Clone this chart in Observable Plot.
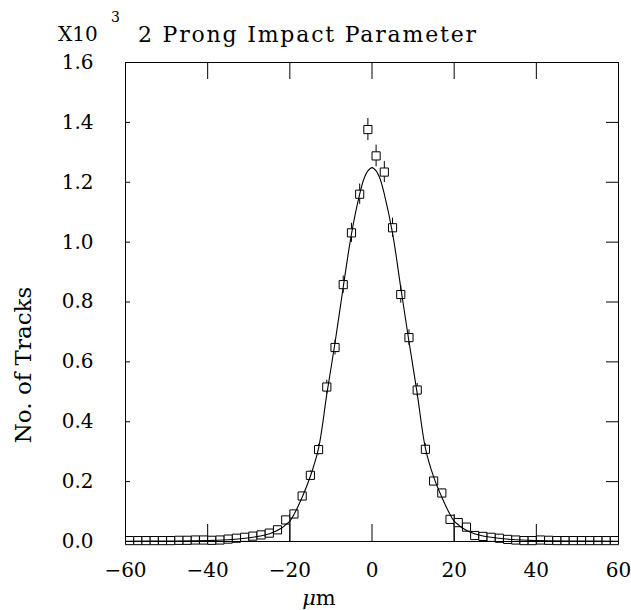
<!DOCTYPE html>
<html>
<head>
<meta charset="utf-8">
<script src="https://cdn.jsdelivr.net/npm/d3@7"></script>
<script src="https://cdn.jsdelivr.net/npm/@observablehq/plot@0.6"></script>
<style>
  html, body { margin: 0; padding: 0; background: #fff; }
  #chart svg { display: block; }
</style>
</head>
<body>
<div id="chart"></div>
<script>
// ---- data (counts in units of 10^3 tracks) ----
const binCenters = [-59,-57,-55,-53,-51,-49,-47,-45,-43,-41,-39,-37,-35,-33,-31,-29,-27,-25,-23,-21,-19,-17,-15,-13,-11,-9,-7,-5,-3,-1,
                    1,3,5,7,9,11,13,15,17,19,21,23,25,27,29,31,33,35,37,39,41,43,45,47,49,51,53,55,57,59];
const counts = [0.003,0.003,0.003,0.003,0.003,0.003,0.004,0.004,0.005,0.005,0.004,0.005,0.008,0.011,0.014,0.018,0.022,0.028,0.039,0.072,0.092,0.152,0.221,0.307,0.516,0.648,0.858,1.031,1.160,1.376,
                1.288,1.234,1.048,0.825,0.681,0.506,0.308,0.202,0.162,0.074,0.063,0.048,0.020,0.017,0.014,0.011,0.007,0.005,0.003,0.003,0.005,0.004,0.003,0.003,0.003,0.003,0.003,0.003,0.003,0.003];
const errors = [0.002,0.002,0.002,0.002,0.002,0.002,0.002,0.002,0.002,0.002,0.002,0.002,0.003,0.003,0.004,0.004,0.005,0.005,0.006,0.008,0.010,0.012,0.015,0.018,0.023,0.025,0.029,0.032,0.034,0.037,
                0.036,0.035,0.032,0.029,0.026,0.022,0.018,0.014,0.013,0.009,0.008,0.007,0.004,0.004,0.004,0.003,0.003,0.002,0.002,0.002,0.002,0.002,0.002,0.002,0.002,0.002,0.002,0.002,0.002,0.002];

// fitted curve
const fitX = [-60,-50,-40,-35,-32,-29,-26,-24,-22,-21,-20,-19,-17,-15,-13,-11,-9,-7,-5,-3,-2,-1,0,
              1,2,3,5,7,9,11,13,15,17,19,20,21,22,24,26,29,32,35,40,50,60];
const fitY = [0.001,0.0015,0.003,0.006,0.009,0.014,0.022,0.031,0.045,0.056,0.068,0.090,0.148,0.218,0.312,0.492,0.664,0.850,1.027,1.160,1.210,1.238,1.249,
              1.238,1.210,1.160,1.030,0.848,0.668,0.495,0.312,0.216,0.148,0.090,0.068,0.056,0.045,0.031,0.022,0.014,0.009,0.006,0.003,0.0015,0.001];

const xTicks = [-60,-40,-20,0,20,40,60];
const xLongTicks = [-20,20];
const yTicks = [0.0,0.2,0.4,0.6,0.8,1.0,1.2,1.4,1.6];

const titleText = "2 Prong Impact Parameter";
const scaleText = "X10";
const scaleExp = "3";
const yLabel = "No. of Tracks";
const xLabelMu = "μ";
const xLabelUnit = "m";

// ---- build ----
const points = binCenters.map((x, i) => ({x, y: counts[i], err: errors[i]}));
const fit = fitX.map((x, i) => ({x, y: fitY[i]}));

const W = 631, H = 610;
const mL = 125, mR = 13, mT = 62, mB = 69;
const plotW = W - mL - mR, plotH = H - mT - mB;
const FONT = "'DejaVu Serif', serif";

const svg = Plot.plot({
  width: W, height: H,
  marginLeft: mL, marginRight: mR, marginTop: mT, marginBottom: mB,
  style: {fontFamily: FONT, fontSize: "20px", color: "#000", background: "#fff"},
  x: {domain: [-60, 60], label: null},
  y: {domain: [0, 1.6], label: null},
  marks: [
    // inward ticks: bottom, top, left, right
    Plot.tickX(xTicks, {x: d => d, insetTop: plotH - 17, stroke: "#000"}),
    Plot.tickX(xLongTicks, {x: d => d, insetTop: plotH - 27, stroke: "#000"}),
    Plot.tickX(xTicks, {x: d => d, insetBottom: plotH - 17, stroke: "#000"}),
    Plot.tickY(yTicks, {y: d => d, insetRight: plotW - 5, stroke: "#000"}),
    Plot.tickY(yTicks, {y: d => d, insetLeft: plotW - 12, stroke: "#000"}),
    Plot.axisX({ticks: xTicks, tickSize: 0, tickPadding: 21, fontSize: 20, fontFamily: FONT, label: null}),
    Plot.axisY({ticks: yTicks, tickSize: 0, tickPadding: 32, fontSize: 20, fontFamily: FONT, tickFormat: d3.format(".1f"), label: null}),
    // error bars
    Plot.ruleX(points, {x: "x", y1: d => d.y - d.err, y2: d => d.y + d.err, stroke: "#000", strokeWidth: 1}),
    // data squares
    Plot.dot(points, {x: "x", y: "y", symbol: "square", r: 4.6, fill: "#fff", stroke: "#000", strokeWidth: 1}),
    // fit curve
    Plot.line(fit, {x: "x", y: "y", curve: "catmull-rom", stroke: "#000", strokeWidth: 1.1}),
    Plot.frame({stroke: "#000", strokeWidth: 1})
  ]
});

const s = d3.select(svg);
const addText = (x, y, size, txt, anchor = "start") =>
  s.append("text").attr("x", x).attr("y", y).attr("text-anchor", anchor)
   .attr("font-family", FONT).attr("font-size", size).attr("fill", "#000").text(txt);

addText(58, 41, 20, scaleText);
addText(111, 22, 14, scaleExp);
addText(138, 42, 22, titleText).attr("textLength", 338).attr("lengthAdjust", "spacing");
s.append("text").attr("transform", "translate(31,365) rotate(-90)").attr("text-anchor", "middle")
  .attr("font-family", FONT).attr("font-size", 23).attr("fill", "#000").text(yLabel);
const xl = s.append("text").attr("x", 319).attr("y", 605).attr("text-anchor", "middle")
  .attr("font-family", FONT).attr("font-size", 21).attr("fill", "#000");
xl.append("tspan").attr("font-style", "italic").text(xLabelMu);
xl.append("tspan").text(xLabelUnit);

document.getElementById("chart").appendChild(svg);
</script>
</body>
</html>
